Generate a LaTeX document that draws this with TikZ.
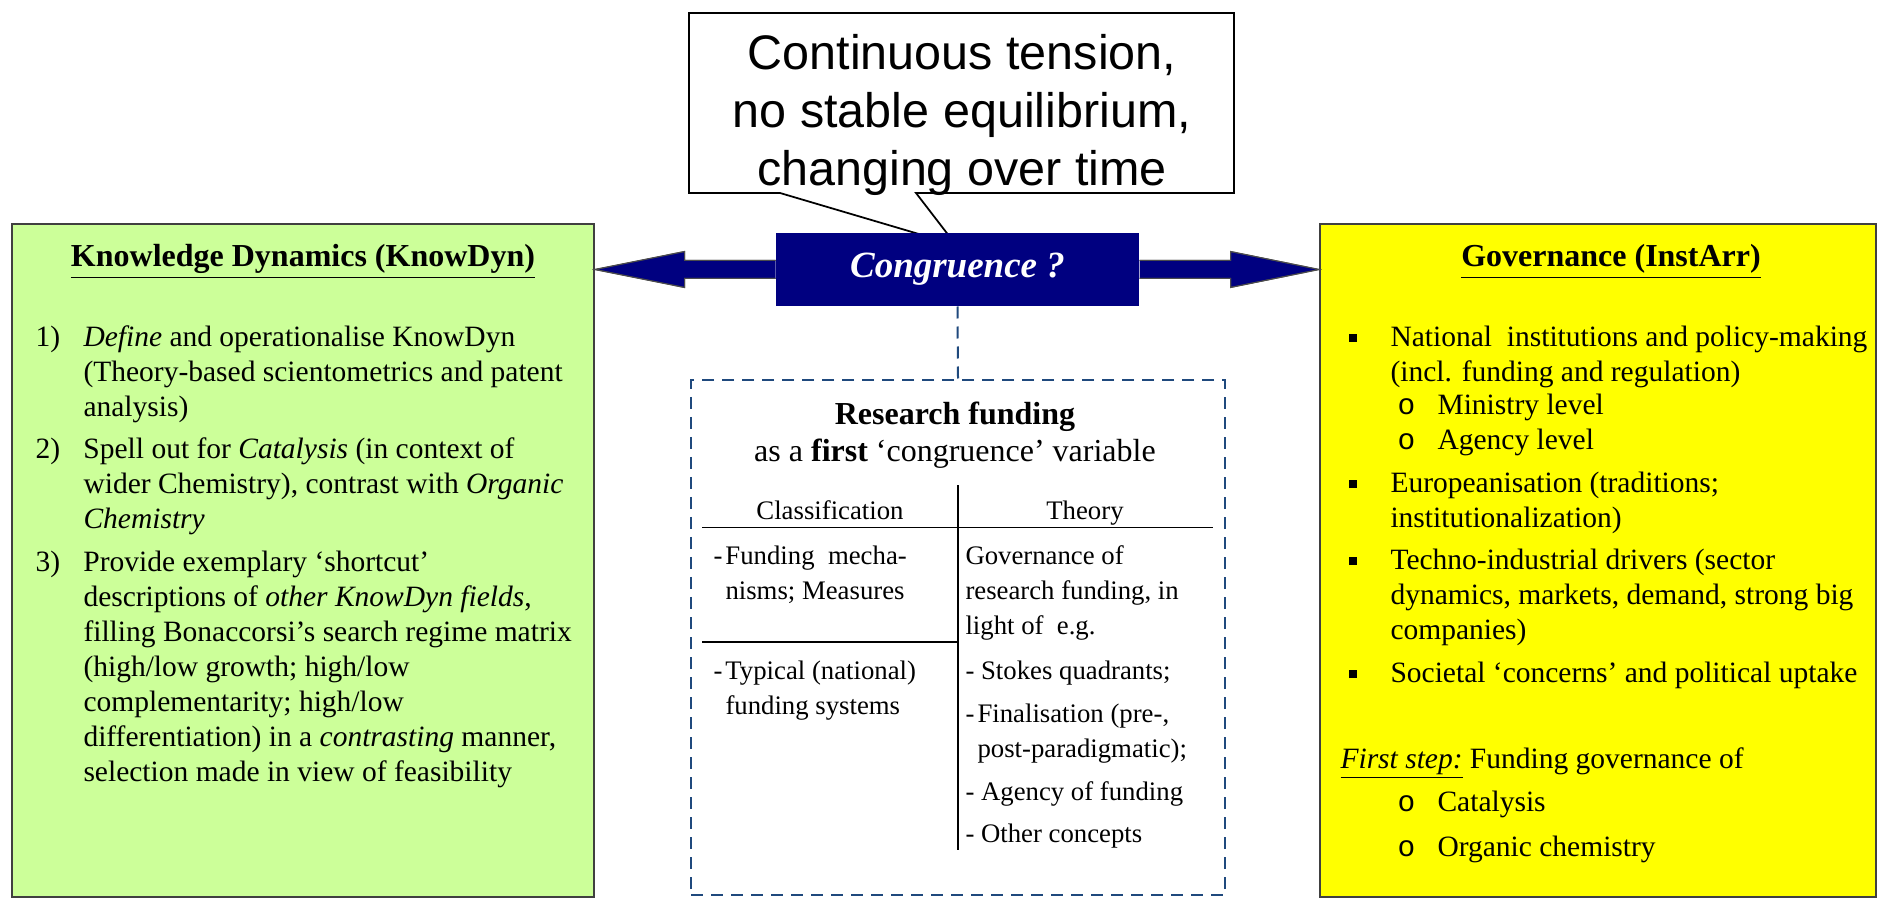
\documentclass[tikz,border=0pt]{standalone}
\usepackage{fontspec}
\setmainfont{Liberation Serif}
\newfontfamily\calloutfont{Liberation Sans}
\newfontfamily\ringfont{Liberation Mono}
\usetikzlibrary{calc}

\definecolor{kdgreen}{RGB}{204,255,153}
\definecolor{govyellow}{RGB}{255,255,0}
\definecolor{congnavy}{RGB}{0,0,128}
\definecolor{fundblue}{RGB}{31,73,125}

% list markers
\newcommand{\numlabel}[1]{\makebox[19.2pt][l]{#1}}
\newcommand{\sqbullet}{\makebox[16.8pt][l]{\rule[1.6pt]{3.2pt}{3.2pt}}}
\newcommand{\ringbullet}{\makebox[16pt][l]{{\ringfont o}}}
\newcommand{\dashlabel}{\makebox[4.8pt][l]{-}}

\tikzset{
  panel/.style={draw=black!75, line width=0.6pt, inner sep=0pt},
  dashpanel/.style={draw=fundblue, line width=0.8pt, dash pattern=on 4.8pt off 3.2pt, inner sep=0pt},
  blockarrow/.style={draw=black!70, line width=0.4pt, fill=congnavy},
  calloutbox/.style={draw=black, line width=0.7pt, fill=white},
  titletext/.style={anchor=base, inner sep=0pt, font=\bfseries\fontsize{12.8}{15}\selectfont},
  bodytext/.style={anchor=base west, inner sep=0pt, font=\fontsize{11.8}{14}\selectfont},
  celltext/.style={anchor=base west, inner sep=0pt, font=\fontsize{10.7}{14}\selectfont},
  tablerule/.style={line width=0.5pt, black}
}

\begin{document}
\begin{tikzpicture}[x=0.4pt, y=-0.4pt]
  \fill[white] (0,0) rectangle (1883,898);
  \useasboundingbox (0,0) rectangle (1883,898);

  % the two side panels
  \node[panel, fill=kdgreen, minimum width=232.8pt, minimum height=269.2pt] (know) at (303,560.5) {};
  \node[panel, fill=govyellow, minimum width=222.4pt, minimum height=269.2pt] (gov) at (1598,560.5) {};

  % callout
  \coordinate (tip) at (956,245);
  \draw[calloutbox] (689,13) -- (1234,13) -- (1234,193) -- (916,193) -- (tip) -- (780,193) -- (689,193) -- cycle;
  \node[inner sep=0pt, align=center, font=\calloutfont\fontsize{19.4}{23.2}\selectfont] (tension) at (962,115)
    {Continuous tension,\\no stable equilibrium,\\changing over time};

  % congruence box and arrows
  \node[fill=congnavy, inner sep=0pt, minimum width=145.2pt, minimum height=29.2pt,
        text=white, font=\bfseries\itshape\fontsize{14.8}{17}\selectfont] (cong) at (957.5,269.5) {Congruence ?};
  \fill[blockarrow] ($(cong.west)+(0,-9)$) -- ++(-91,0) -- ++(0,-9) -- (know.east |- cong.west)
    -- ($(cong.west)+(-91,18)$) -- ++(0,-9) -- ($(cong.west)+(0,9)$);
  \draw[blockarrow, fill=none] ($(cong.west)+(0,-9)$) -- ++(-91,0) -- ++(0,-9) -- (know.east |- cong.west)
    -- ($(cong.west)+(-91,18)$) -- ++(0,-9) -- ($(cong.west)+(0,9)$);
  \fill[blockarrow] ($(cong.east)+(0,-9)$) -- ++(91,0) -- ++(0,-9) -- (gov.west |- cong.east)
    -- ($(cong.east)+(91,18)$) -- ++(0,-9) -- ($(cong.east)+(0,9)$);
  \draw[blockarrow, fill=none] ($(cong.east)+(0,-9)$) -- ++(91,0) -- ++(0,-9) -- (gov.west |- cong.east)
    -- ($(cong.east)+(91,18)$) -- ++(0,-9) -- ($(cong.east)+(0,9)$);

  % research funding panel
  \node[dashpanel, minimum width=213.6pt, minimum height=206pt] (fund) at (958,637.5) {};
  \draw[dashpanel] (cong.south) -- (fund.north);

  % left panel text
  \node[titletext] (kdtitle) at (303,267) {\underline{Knowledge Dynamics (KnowDyn)}};
  \node[bodytext] (kd1) at (35,346) {\numlabel{1)}\parbox[t]{230pt}{\emph{Define} and operationalise KnowDyn\\(Theory-based scientometrics and patent\\analysis)}};
  \node[bodytext] (kd2) at (35,458) {\numlabel{2)}\parbox[t]{230pt}{Spell out for \emph{Catalysis} (in context of\\wider Chemistry), contrast with \emph{Organic}\\\emph{Chemistry}}};
  \node[bodytext] (kd3) at (35,571) {\numlabel{3)}\parbox[t]{230pt}{Provide exemplary ‘shortcut’\\descriptions of \emph{other KnowDyn fields},\\filling Bonaccorsi’s search regime matrix\\(high/low growth; high/low\\complementarity; high/low\\differentiation) in a \emph{contrasting} manner,\\selection made in view of feasibility}};

  % right panel text
  \node[titletext] (govtitle) at (1611,267) {\underline{Governance (InstArr)}};
  \node[bodytext] (gv1) at (1348,346) {\sqbullet\parbox[t]{220pt}{National\ \ institutions and policy-making\\(incl. funding and regulation)}};
  \node[bodytext] (gv1a) at (1397,414) {\ringbullet Ministry level};
  \node[bodytext] (gv1b) at (1397,449) {\ringbullet Agency level};
  \node[bodytext] (gv2) at (1348,492) {\sqbullet\parbox[t]{220pt}{Europeanisation (traditions;\\institutionalization)}};
  \node[bodytext] (gv3) at (1348,569) {\sqbullet\parbox[t]{220pt}{Techno-industrial drivers (sector\\dynamics, markets, demand, strong big\\companies)}};
  \node[bodytext] (gv4) at (1348,682) {\sqbullet Societal ‘concerns’ and political uptake};
  \node[bodytext] (step) at (1340,768) {\underline{\emph{First step:}} Funding governance of};
  \node[bodytext] (step1) at (1397,811) {\ringbullet Catalysis};
  \node[bodytext] (step2) at (1397,856) {\ringbullet Organic chemistry};

  % research funding text and table
  \node[titletext] (fundhead) at (955,425) {Research funding};
  \node[anchor=base, inner sep=0pt, font=\fontsize{12.8}{15}\selectfont] (fundsub) at (955,461) {as a \textbf{first} ‘congruence’ variable};
  \draw[tablerule] (958,485) -- (958,850);
  \draw[tablerule] (702,527.5) -- (1213,527.5);
  \draw[tablerule] (702,642) -- (958,642);
  \node[celltext, anchor=base] (classhead) at (830,519) {Classification};
  \node[celltext, anchor=base] (theohead) at (1085,519) {Theory};
  \node[celltext] (cl1) at (713,564) {\dashlabel\parbox[t]{90pt}{Funding\ \ mecha-\\nisms; Measures}};
  \node[celltext] (cl2) at (713,679) {\dashlabel\parbox[t]{90pt}{Typical (national)\\funding systems}};
  \node[celltext] (th0) at (965,564) {\parbox[t]{100pt}{Governance of\\research funding, in\\light of\ \ e.g.}};
  \node[celltext] (th1) at (965,679) {- Stokes quadrants;};
  \node[celltext] (th2) at (965,722) {\makebox[4.8pt][l]{-}\parbox[t]{100pt}{Finalisation (pre-,\\post-paradigmatic);}};
  \node[celltext] (th3) at (965,800) {- Agency of funding};
  \node[celltext] (th4) at (965,842) {- Other concepts};
\end{tikzpicture}
\end{document}
